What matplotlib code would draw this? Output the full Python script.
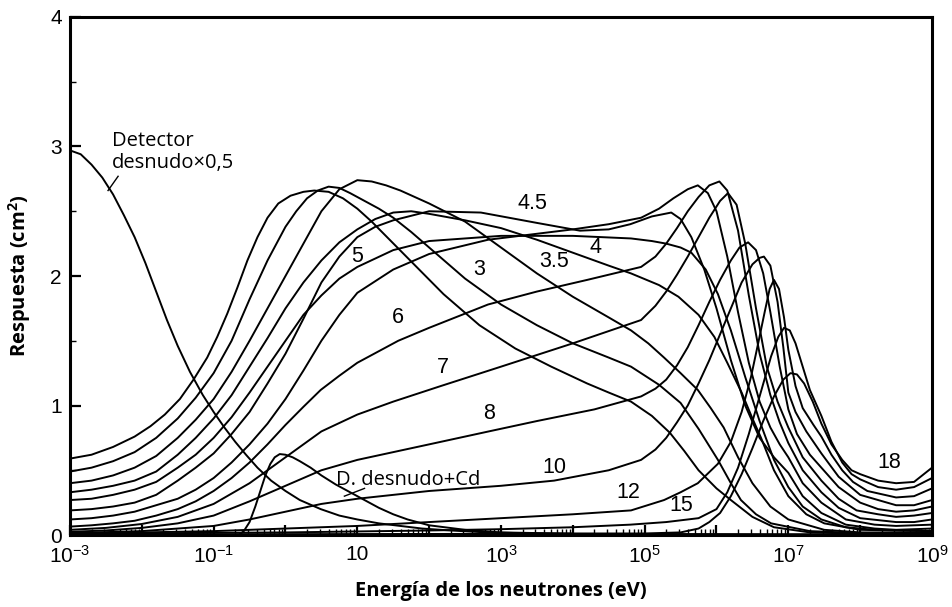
import numpy as np
import matplotlib
matplotlib.use('Agg')
import matplotlib.pyplot as plt
from matplotlib.ticker import FixedLocator, NullFormatter

plt.rcParams['font.family'] = ['Liberation Sans', 'DejaVu Sans']
plt.rcParams['mathtext.default'] = 'regular'

# response curves: log10(E / eV) and response (cm^2)
bare_logE = [-3, -2.85, -2.7, -2.55, -2.4, -2.25, -2.1, -1.95, -1.8, -1.65, -1.5, -1.33, -1.15, -1.0, -0.85, -0.7, -0.55, -0.39, -0.2, 0.0, 0.2, 0.49, 0.75, 1.0, 1.3, 1.6, 1.9, 2.3, 2.8, 3.5, 5, 9]
bare_resp = [2.97, 2.94, 2.86, 2.76, 2.63, 2.47, 2.3, 2.1, 1.88, 1.66, 1.46, 1.26, 1.08, 0.95, 0.83, 0.72, 0.62, 0.52, 0.42, 0.34, 0.27, 0.2, 0.15, 0.12, 0.09, 0.07, 0.05, 0.035, 0.02, 0.012, 0.008, 0.005]

cd_logE = [-0.65, -0.58, -0.5, -0.42, -0.35, -0.28, -0.21, -0.15, -0.08, 0.0, 0.1, 0.2, 0.35, 0.5, 0.7, 0.9, 1.1, 1.3, 1.5, 1.7, 2.0, 2.5, 3.0, 4.0]
cd_resp = [0.0, 0.03, 0.1, 0.22, 0.34, 0.46, 0.55, 0.6, 0.625, 0.62, 0.6, 0.57, 0.52, 0.46, 0.39, 0.33, 0.27, 0.21, 0.16, 0.12, 0.075, 0.04, 0.02, 0.01]

s2_logE = [-3, -2.7, -2.4, -2.1, -1.88, -1.68, -1.47, -1.28, -1.09, -0.95, -0.81, -0.67, -0.53, -0.39, -0.25, -0.1, 0.07, 0.25, 0.4, 0.6, 0.8, 1.0, 1.2, 1.45, 1.7, 1.95, 2.2, 2.45, 2.7, 3.2, 3.7, 4.2, 4.5, 4.81, 5.1, 5.35, 5.55, 5.75, 6.0, 6.2, 6.5, 6.8, 7.3, 8, 9]
s2_resp = [0.59, 0.62, 0.68, 0.76, 0.84, 0.93, 1.05, 1.2, 1.37, 1.53, 1.71, 1.91, 2.12, 2.3, 2.45, 2.56, 2.62, 2.65, 2.66, 2.65, 2.6, 2.52, 2.42, 2.28, 2.14, 2.0, 1.86, 1.74, 1.62, 1.44, 1.3, 1.17, 1.1, 1.03, 0.92, 0.79, 0.65, 0.5, 0.36, 0.27, 0.14, 0.06, 0.02, 0.01, 0.01]

s25_logE = [-3, -2.7, -2.4, -2.1, -1.8, -1.5, -1.25, -1, -0.75, -0.5, -0.25, 0, 0.15, 0.3, 0.45, 0.6, 0.75, 0.9, 1.1, 1.3, 1.5, 1.75, 2, 2.5, 3, 3.5, 4, 4.5, 4.81, 5.2, 5.5, 5.75, 6.02, 6.2, 6.34, 6.55, 6.76, 7.3, 8, 9]
s25_resp = [0.49, 0.52, 0.57, 0.64, 0.75, 0.9, 1.06, 1.25, 1.5, 1.82, 2.12, 2.38, 2.5, 2.6, 2.66, 2.69, 2.68, 2.64, 2.58, 2.52, 2.45, 2.34, 2.22, 1.98, 1.78, 1.62, 1.48, 1.37, 1.3, 1.16, 1.02, 0.82, 0.58, 0.4, 0.27, 0.16, 0.09, 0.03, 0.015, 0.01]

s3_logE = [-3, -2.7, -2.4, -2.1, -1.8, -1.5, -1.25, -1, -0.75, -0.5, -0.25, 0, 0.25, 0.5, 0.75, 1.0, 1.2, 1.4, 1.6, 1.8, 2, 2.5, 3, 3.5, 4, 4.5, 4.81, 5.05, 5.27, 5.5, 5.74, 5.92, 6.1, 6.3, 6.5, 6.75, 7, 7.5, 8, 9]
s3_resp = [0.40, 0.42, 0.46, 0.52, 0.61, 0.75, 0.89, 1.05, 1.26, 1.5, 1.75, 2.0, 2.25, 2.5, 2.67, 2.74, 2.73, 2.7, 2.66, 2.61, 2.56, 2.42, 2.22, 2.02, 1.84, 1.68, 1.58, 1.48, 1.37, 1.25, 1.12, 0.98, 0.83, 0.6, 0.4, 0.22, 0.12, 0.04, 0.02, 0.02]

s35_logE = [-3, -2.7, -2.4, -2.1, -1.8, -1.5, -1.25, -1, -0.75, -0.5, -0.25, 0, 0.25, 0.5, 0.75, 1, 1.25, 1.5, 1.75, 2, 2.5, 3, 3.5, 4, 4.5, 4.81, 5.2, 5.47, 5.75, 5.97, 6.15, 6.35, 6.5, 6.62, 6.8, 7, 7.25, 7.5, 8, 9]
s35_resp = [0.33, 0.35, 0.38, 0.42, 0.49, 0.62, 0.75, 0.9, 1.08, 1.3, 1.52, 1.75, 1.95, 2.12, 2.26, 2.36, 2.44, 2.49, 2.5, 2.48, 2.43, 2.37, 2.28, 2.18, 2.08, 2.02, 1.93, 1.84, 1.7, 1.53, 1.33, 1.1, 0.9, 0.75, 0.5, 0.3, 0.16, 0.09, 0.04, 0.03]

s4_logE = [-3, -2.7, -2.4, -2.1, -1.8, -1.5, -1.25, -1, -0.75, -0.5, -0.25, 0, 0.25, 0.5, 0.75, 1, 1.5, 2, 3, 4, 4.81, 5.1, 5.3, 5.5, 5.65, 5.85, 6.02, 6.2, 6.4, 6.6, 6.8, 7.0, 7.2, 7.46, 7.8, 8.2, 9]
s4_resp = [0.27, 0.28, 0.31, 0.35, 0.41, 0.52, 0.62, 0.75, 0.91, 1.1, 1.3, 1.5, 1.7, 1.85, 1.98, 2.07, 2.2, 2.27, 2.31, 2.31, 2.29, 2.27, 2.25, 2.22, 2.18, 2.05, 1.86, 1.58, 1.22, 0.88, 0.58, 0.37, 0.22, 0.12, 0.06, 0.04, 0.03]

s45_logE = [-3, -2.7, -2.4, -2.1, -1.8, -1.5, -1.25, -1, -0.75, -0.5, -0.25, 0, 0.25, 0.5, 0.75, 1, 1.25, 1.5, 2, 2.72, 3.5, 4.1, 4.5, 4.8, 5.1, 5.37, 5.5, 5.65, 5.83, 6.0, 6.2, 6.4, 6.6, 6.8, 7.0, 7.2, 7.46, 7.8, 8.2, 8.5, 9]
s45_resp = [0.19, 0.2, 0.22, 0.25, 0.31, 0.42, 0.52, 0.63, 0.78, 0.95, 1.17, 1.4, 1.67, 1.95, 2.15, 2.3, 2.38, 2.43, 2.5, 2.49, 2.41, 2.35, 2.36, 2.4, 2.46, 2.49, 2.44, 2.3, 2.05, 1.75, 1.35, 1.0, 0.75, 0.6, 0.48, 0.3, 0.17, 0.08, 0.05, 0.04, 0.05]

s5_logE = [-3, -2.7, -2.4, -2.1, -1.8, -1.5, -1.25, -1, -0.75, -0.5, -0.25, 0, 0.25, 0.5, 0.75, 1, 1.5, 2, 2.82, 4, 4.5, 4.95, 5.2, 5.4, 5.6, 5.74, 5.88, 6.0, 6.15, 6.3, 6.45, 6.6, 6.75, 6.88, 7.0, 7.2, 7.46, 7.8, 8.2, 8.5, 9]
s5_resp = [0.12, 0.13, 0.15, 0.18, 0.23, 0.28, 0.35, 0.44, 0.56, 0.7, 0.86, 1.05, 1.27, 1.5, 1.7, 1.87, 2.05, 2.17, 2.28, 2.36, 2.4, 2.45, 2.52, 2.6, 2.67, 2.7, 2.64, 2.5, 2.15, 1.72, 1.33, 1.03, 0.83, 0.7, 0.6, 0.4, 0.25, 0.12, 0.08, 0.07, 0.08]

s6_logE = [-3, -2.7, -2.4, -2.1, -1.8, -1.5, -1.25, -1, -0.75, -0.5, -0.25, 0, 0.25, 0.49, 0.75, 1, 1.57, 2, 2.82, 3.5, 4.2, 4.95, 5.15, 5.3, 5.45, 5.6, 5.75, 5.9, 6.04, 6.15, 6.3, 6.45, 6.6, 6.75, 6.88, 7.0, 7.2, 7.46, 7.7, 8, 8.5, 8.75, 9]
s6_resp = [0.065, 0.075, 0.09, 0.11, 0.15, 0.2, 0.26, 0.34, 0.44, 0.56, 0.7, 0.85, 0.99, 1.12, 1.23, 1.33, 1.5, 1.6, 1.78, 1.88, 1.97, 2.07, 2.15, 2.25, 2.37, 2.5, 2.61, 2.7, 2.73, 2.66, 2.35, 1.85, 1.4, 1.08, 0.87, 0.71, 0.5, 0.33, 0.21, 0.13, 0.1, 0.1, 0.12]

s7_logE = [-3, -2.5, -2, -1.5, -1, -0.5, 0, 0.5, 1, 1.5, 2.16, 3, 4, 4.95, 5.15, 5.3, 5.45, 5.6, 5.75, 5.9, 6.05, 6.16, 6.28, 6.4, 6.55, 6.7, 6.85, 7.0, 7.2, 7.46, 7.7, 7.95, 8.25, 8.5, 8.75, 9]
s7_resp = [0.04, 0.055, 0.085, 0.14, 0.24, 0.4, 0.6, 0.8, 0.93, 1.03, 1.15, 1.3, 1.48, 1.66, 1.77, 1.88, 2.01, 2.15, 2.3, 2.45, 2.58, 2.64, 2.55, 2.25, 1.75, 1.3, 1.03, 0.83, 0.6, 0.42, 0.28, 0.19, 0.16, 0.14, 0.15, 0.17]

s8_logE = [-3, -2.5, -2, -1.5, -1, -0.5, 0, 0.5, 1, 1.5, 2, 2.83, 3.5, 4.3, 4.95, 5.15, 5.3, 5.45, 5.6, 5.75, 5.9, 6.05, 6.2, 6.32, 6.44, 6.55, 6.65, 6.75, 6.88, 7.0, 7.12, 7.3, 7.46, 7.7, 8, 8.25, 8.5, 8.75, 9]
s8_resp = [0.025, 0.035, 0.055, 0.09, 0.15, 0.26, 0.38, 0.5, 0.58, 0.64, 0.7, 0.8, 0.88, 0.97, 1.07, 1.13, 1.2, 1.31, 1.45, 1.62, 1.8, 1.97, 2.12, 2.22, 2.26, 2.2, 2.02, 1.72, 1.3, 0.97, 0.78, 0.62, 0.52, 0.37, 0.25, 0.2, 0.18, 0.19, 0.22]

s10_logE = [-3, -2, -1, -0.5, 0, 0.5, 1, 2, 3, 3.74, 4.5, 4.95, 5.15, 5.3, 5.45, 5.6, 5.75, 5.9, 6.05, 6.2, 6.35, 6.5, 6.6, 6.66, 6.75, 6.85, 6.93, 7.0, 7.1, 7.25, 7.46, 7.7, 8, 8.25, 8.5, 8.75, 9]
s10_resp = [0.015, 0.03, 0.07, 0.12, 0.18, 0.24, 0.28, 0.34, 0.38, 0.42, 0.5, 0.58, 0.66, 0.75, 0.87, 1.0, 1.17, 1.35, 1.55, 1.75, 1.95, 2.09, 2.14, 2.15, 2.08, 1.8, 1.45, 1.1, 0.95, 0.8, 0.63, 0.45, 0.31, 0.27, 0.23, 0.23, 0.27]

s12_logE = [-3, -1, 0, 1, 2, 3, 4, 4.81, 5.27, 5.5, 5.74, 6.02, 6.2, 6.35, 6.48, 6.58, 6.67, 6.74, 6.8, 6.87, 6.94, 7.0, 7.1, 7.2, 7.35, 7.46, 7.6, 7.75, 7.9, 8.1, 8.5, 8.75, 9]
s12_resp = [0.01, 0.03, 0.05, 0.07, 0.1, 0.13, 0.16, 0.19, 0.27, 0.33, 0.4, 0.55, 0.72, 0.95, 1.22, 1.48, 1.72, 1.9, 1.97, 1.9, 1.68, 1.43, 1.15, 0.98, 0.85, 0.76, 0.62, 0.5, 0.41, 0.34, 0.29, 0.3, 0.36]

s15_logE = [-3, 0, 2, 3, 4, 4.8, 5.3, 5.75, 6.0, 6.15, 6.3, 6.45, 6.6, 6.76, 6.86, 6.94, 7.02, 7.1, 7.2, 7.3, 7.46, 7.6, 7.75, 7.88, 8, 8.25, 8.5, 8.75, 9]
s15_resp = [0.01, 0.02, 0.035, 0.045, 0.06, 0.08, 0.1, 0.13, 0.2, 0.33, 0.52, 0.78, 1.07, 1.38, 1.53, 1.6, 1.58, 1.48, 1.3, 1.12, 0.92, 0.72, 0.56, 0.47, 0.43, 0.37, 0.35, 0.37, 0.44]

s18_logE = [-3, 2, 4, 5, 5.5, 5.75, 5.9, 6.05, 6.2, 6.35, 6.5, 6.65, 6.8, 6.93, 7.03, 7.12, 7.22, 7.34, 7.46, 7.6, 7.75, 7.88, 8, 8.25, 8.5, 8.75, 9]
s18_resp = [0.005, 0.008, 0.01, 0.012, 0.02, 0.05, 0.1, 0.17, 0.3, 0.47, 0.67, 0.88, 1.07, 1.2, 1.25, 1.24, 1.17, 1.03, 0.86, 0.7, 0.58, 0.5, 0.47, 0.42, 0.4, 0.41, 0.52]

curves = [
    (bare_logE, bare_resp), (cd_logE, cd_resp),
    (s2_logE, s2_resp), (s25_logE, s25_resp), (s3_logE, s3_resp),
    (s35_logE, s35_resp), (s4_logE, s4_resp), (s45_logE, s45_resp),
    (s5_logE, s5_resp), (s6_logE, s6_resp), (s7_logE, s7_resp),
    (s8_logE, s8_resp), (s10_logE, s10_resp), (s12_logE, s12_resp),
    (s15_logE, s15_resp), (s18_logE, s18_resp),
]

# curve labels: text, log10(E), response
curve_labels = ['4.5', '4', '3.5', '3', '5', '6', '7', '8', '10', '12', '15', '18']
label_logE = [3.44, 4.32, 3.74, 2.69, 1.0, 1.57, 2.19, 2.83, 3.74, 4.77, 5.51, 8.41]
label_resp = [2.56, 2.22, 2.11, 2.05, 2.15, 1.68, 1.29, 0.94, 0.52, 0.33, 0.23, 0.56]

xtick_exp = [-3, -1, 1, 3, 5, 7, 9]
xtick_text = [r'$10^{-3}$', r'$10^{-1}$', '10', r'$10^{3}$', r'$10^{5}$', r'$10^{7}$', r'$10^{9}$']

fig = plt.figure(figsize=(9.52, 6.07), dpi=100)
ax = fig.add_axes([0.0735, 0.1186, 0.9055, 0.8534])

for logE, resp in curves:
    ax.plot(10.0 ** np.array(logE), resp, color='black', lw=1.4,
            solid_joinstyle='round', solid_capstyle='round')

ax.set_xscale('log')
ax.set_xlim(1e-3, 1e9)
ax.set_ylim(0, 4)

ax.xaxis.set_major_locator(FixedLocator([10.0 ** k for k in range(-3, 10)]))
ax.xaxis.set_minor_locator(FixedLocator([m * 10.0 ** k for k in range(-3, 9) for m in range(2, 10)]))
ax.set_xticklabels(['' for k in range(-3, 10)])
ax.xaxis.set_minor_formatter(NullFormatter())
for k, txt in zip(xtick_exp, xtick_text):
    ax.text(10.0 ** k, -0.08, txt, ha='center', va='top', fontsize=15)

ax.set_yticks([0, 1, 2, 3, 4])
ax.set_yticklabels(['0', '1', '2', '3', '4'], fontsize=15)
ax.yaxis.set_minor_locator(FixedLocator([0.5, 1.5, 2.5, 3.5]))

ax.tick_params(which='major', direction='in', length=8, width=1.6, pad=6)
ax.tick_params(which='minor', direction='in', length=4, width=1.0)
ax.tick_params(axis='x', which='major', length=7)
for s in ax.spines.values():
    s.set_linewidth(2.2)

ax.set_ylabel('Respuesta (cm$^2$)', fontsize=14.5, fontweight='bold', family=['Open Sans', 'DejaVu Sans'])
ax.yaxis.set_label_coords(-0.043, 0.5)
ax.set_xlabel('Energía de los neutrones (eV)', fontsize=14.5, fontweight='bold', family=['Open Sans', 'DejaVu Sans'])
ax.xaxis.set_label_coords(0.5, -0.088)

for txt, u, r in zip(curve_labels, label_logE, label_resp):
    ax.text(10.0 ** u, r, txt, ha='center', va='center', fontsize=15.5)

# annotations for the bare detector curves
ax.text(10.0 ** -2.41, 2.96, 'Detector\ndesnudo\u00d70,5', ha='left', va='center',
        fontsize=14.5, linespacing=1.15, family=['Open Sans', 'DejaVu Sans'])
ax.plot([10.0 ** -2.33, 10.0 ** -2.47], [2.77, 2.66], color='black', lw=1.0)
ax.text(10.0 ** 0.7, 0.425, 'D. desnudo+Cd', ha='left', va='center', fontsize=14.5,
        family=['Open Sans', 'DejaVu Sans'])
ax.plot([10.0 ** 1.1, 10.0 ** 0.82], [0.36, 0.3], color='black', lw=1.0)

fig.savefig('out.png', dpi=100)
